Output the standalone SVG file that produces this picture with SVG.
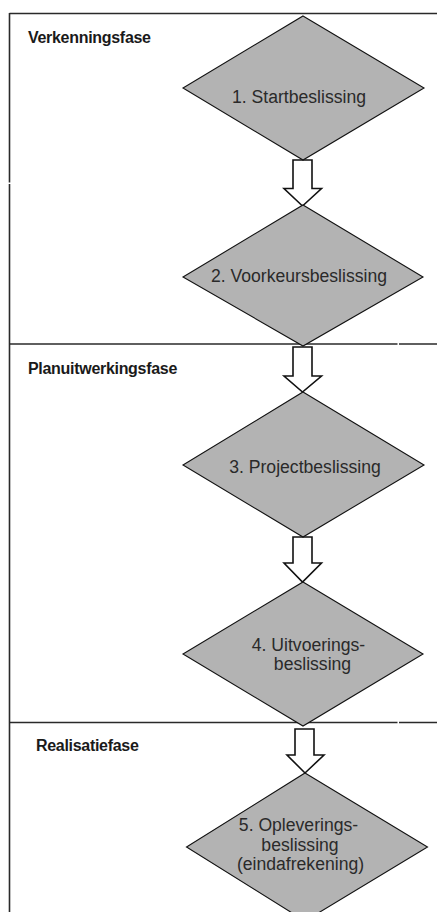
<svg xmlns="http://www.w3.org/2000/svg" width="437" height="912" viewBox="0 0 437 912">
<style>
.frame{stroke:#2a2a2a;stroke-width:1.6;fill:none}
.dia{fill:#b3b3b3;stroke:#111;stroke-width:1.1}
.arr{fill:#fff;stroke:#111;stroke-width:1.6;stroke-linejoin:miter}
.lbl{font-family:"Liberation Sans",Arial,sans-serif;font-size:17.6px;fill:#2a2a2a;text-anchor:middle}
.phase{font-family:"Liberation Sans",Arial,sans-serif;font-size:16px;font-weight:bold;fill:#1a1a1a;letter-spacing:-0.3px}
</style>
<rect width="437" height="912" fill="#fff"/>
<g id="frame">
<line class="frame" x1="9.5" y1="13.5" x2="437" y2="13.5"/>
<line class="frame" x1="9.5" y1="13" x2="9.5" y2="182.5"/>
<line class="frame" x1="9.5" y1="184" x2="9.5" y2="912"/>
<line class="frame" x1="9.5" y1="344" x2="397.5" y2="344"/>
<line class="frame" x1="399" y1="344" x2="437" y2="344"/>
<line class="frame" x1="9.5" y1="722.5" x2="397.5" y2="722.5"/>
<line class="frame" x1="399" y1="722.5" x2="437" y2="722.5"/>
</g>
<g id="phases">
<text class="phase" x="28" y="42.5">Verkenningsfase</text>
<text class="phase" x="28" y="374">Planuitwerkingsfase</text>
<text class="phase" x="36" y="751">Realisatiefase</text>
</g>
<g id="connectors">
<path class="arr" d="M293 160 V188.5 H284 L302.5 206 L321.5 188.5 H312 V160 Z"/>
<path class="arr" d="M293 347 V376 H284 L302.5 392 L321.5 376 H312 V347 Z"/>
<path class="arr" d="M293 537 V563 H284 L302.5 582 L321.5 563 H312 V537 Z"/>
<path class="arr" d="M295 729 V755 H287 L305 773 L324 755 H314 V729 Z"/>
</g>
<g id="node1">
<polygon class="dia" points="303,16 424,88 303,160 183,88"/>
<text class="lbl" x="299" y="103">1. Startbeslissing</text>
</g>
<g id="node2">
<polygon class="dia" points="303,205 423,277 303,346 183,277"/>
<text class="lbl" x="299" y="281.5">2. Voorkeursbeslissing</text>
</g>
<g id="node3">
<polygon class="dia" points="303,392 424,465 303,537 183,465"/>
<text class="lbl" x="305" y="473">3. Projectbeslissing</text>
</g>
<g id="node4">
<polygon class="dia" points="303,582 423,654 303,726 183,654"/>
<text class="lbl" x="308.5" y="651">4. Uitvoerings-</text>
<text class="lbl" x="312.5" y="669.5">beslissing</text>
</g>
<g id="node5">
<polygon class="dia" points="305,773 427.5,847 305,921 186.5,847"/>
<text class="lbl" x="298.5" y="831">5. Opleverings-</text>
<text class="lbl" x="300" y="850.5">beslissing</text>
<text class="lbl" x="300.5" y="870">(eindafrekening)</text>
</g>
</svg>
